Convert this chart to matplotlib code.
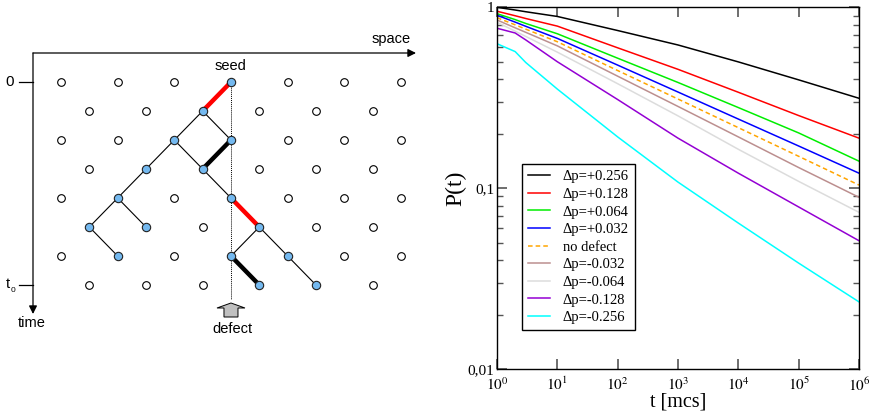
import matplotlib
matplotlib.use("Agg")
import matplotlib.pyplot as plt
from matplotlib.patches import FancyArrow
import numpy as np

# ---- data: survival probability P(t) ----
t = [1, 2, 3, 10, 100, 1e3, 1e4, 1e5, 1e6]
p_plus256 = [1.0, 0.966, 0.945, 0.890, 0.744, 0.619, 0.499, 0.397, 0.314]
p_plus128 = [0.951, 0.898, 0.867, 0.787, 0.597, 0.454, 0.339, 0.252, 0.189]
p_plus064 = [0.922, 0.855, 0.814, 0.714, 0.523, 0.384, 0.279, 0.202, 0.141]
p_plus032 = [0.904, 0.828, 0.785, 0.673, 0.479, 0.340, 0.241, 0.171, 0.121]
p_nodef = [0.876, 0.800, 0.757, 0.645, 0.447, 0.311, 0.216, 0.150, 0.104]
p_minus032 = [0.851, 0.770, 0.727, 0.612, 0.416, 0.283, 0.192, 0.130, 0.089]
p_minus064 = [0.826, 0.738, 0.690, 0.565, 0.378, 0.251, 0.164, 0.109, 0.0735]
p_minus128 = [0.766, 0.721, 0.660, 0.500, 0.309, 0.189, 0.121, 0.0787, 0.0512]
p_minus256 = [0.629, 0.569, 0.495, 0.353, 0.192, 0.108, 0.0641, 0.0385, 0.0235]

labels = ["Δp=+0.256", "Δp=+0.128", "Δp=+0.064", "Δp=+0.032", "no defect",
          "Δp=-0.032", "Δp=-0.064", "Δp=-0.128", "Δp=-0.256"]
series = [p_plus256, p_plus128, p_plus064, p_plus032, p_nodef,
          p_minus032, p_minus064, p_minus128, p_minus256]
colors = ["black", "#ff0000", "#00ee00", "#0000ff", "#ffa500",
          "#bc8f8f", "#dcdcdc", "#9400d3", "#00ffff"]

# ---- schematic: lattice (row, half-column) of active sites and bonds ----
n_rows = 8
n_cols = 13
active = [(0, 6), (1, 5), (2, 4), (2, 6), (3, 3), (3, 5), (4, 2), (4, 6),
          (5, 1), (5, 3), (5, 7), (6, 2), (6, 6), (6, 8), (7, 7), (7, 9)]
thin_bonds = [((1, 5), (2, 4)), ((1, 5), (2, 6)), ((2, 4), (3, 3)), ((2, 4), (3, 5)),
              ((3, 3), (4, 2)), ((3, 5), (4, 6)), ((4, 2), (5, 1)), ((4, 2), (5, 3)),
              ((5, 1), (6, 2)), ((5, 7), (6, 6)), ((5, 7), (6, 8)), ((6, 8), (7, 9))]
red_bonds = [((0, 6), (1, 5)), ((4, 6), (5, 7))]
black_bonds = [((2, 6), (3, 5)), ((6, 6), (7, 7))]
defect_col = 6

fig = plt.figure(figsize=(8.72, 4.13), dpi=100)

# left panel in pixel-like units
axl = fig.add_axes([0, 0, 440 / 872, 1])
axl.set_xlim(0, 440)
axl.set_ylim(413, 0)
axl.axis("off")

x0, dx = 61, 28.33
y0, dy = 82, 29


def pos(node):
    r, c = node
    return x0 + c * dx, y0 + r * dy


sans = "Liberation Sans"

# axes arrows
axl.annotate("", xy=(416, 53), xytext=(33, 53),
             arrowprops=dict(arrowstyle="-|>", color="black", lw=0.9,
                             mutation_scale=12, shrinkA=0, shrinkB=0))
axl.annotate("", xy=(33, 314), xytext=(33, 53),
             arrowprops=dict(arrowstyle="-|>", color="black", lw=0.9,
                             mutation_scale=12, shrinkA=0, shrinkB=0))
axl.plot([19, 33], [y0, y0], color="black", lw=0.9)
axl.plot([19, 33], [y0 + 7 * dy, y0 + 7 * dy], color="black", lw=0.9)
axl.text(10, y0, "0", ha="center", va="center", fontsize=11, family=sans)
axl.text(8, y0 + 7 * dy - 1, "t", ha="center", va="center", fontsize=10.5, family=sans)
axl.text(13, y0 + 7 * dy + 5, "0", ha="center", va="center", fontsize=6, family=sans)
axl.text(32, 323, "time", ha="center", va="center", fontsize=10.5, family=sans)
axl.text(391, 39, "space", ha="center", va="center", fontsize=10.5, family=sans)

# defect line and marker
xd = x0 + defect_col * dx
axl.plot([xd, xd], [y0, 299], color="black", lw=0.7, ls=(0, (1, 1)))
axl.add_patch(FancyArrow(xd, 317, 0, -14, width=14, head_width=28, head_length=5,
                         length_includes_head=True, facecolor="#c0c0c0",
                         edgecolor="black", lw=0.7))
axl.text(xd, 66, "seed", ha="center", va="center", fontsize=10.5, family=sans)
axl.text(xd + 1, 329, "defect", ha="center", va="center", fontsize=10.5, family=sans)

# bonds
for a, b in thin_bonds:
    (xa, ya), (xb, yb) = pos(a), pos(b)
    axl.plot([xa, xb], [ya, yb], color="black", lw=0.8, zorder=2)
for a, b in red_bonds:
    (xa, ya), (xb, yb) = pos(a), pos(b)
    axl.plot([xa, xb], [ya, yb], color="#ff0000", lw=3.2, zorder=2)
for a, b in black_bonds:
    (xa, ya), (xb, yb) = pos(a), pos(b)
    axl.plot([xa, xb], [ya, yb], color="black", lw=3.2, zorder=2)

# lattice sites
for r in range(n_rows):
    for c in range(r % 2, n_cols, 2):
        x, y = pos((r, c))
        if (r, c) in active:
            axl.plot(x, y, "o", ms=6, mfc="#74b9f0", mec="#222222", mew=0.8, zorder=3)
        else:
            axl.plot(x, y, "o", ms=5.5, mfc="white", mec="black", mew=0.8, zorder=3)

# right panel
plt.rcParams["mathtext.fontset"] = "stix"
serif = "Liberation Serif"
axr = fig.add_axes([497 / 872, 44 / 413, 362 / 872, 361.7 / 413])
for p, lab, col in zip(series, labels, colors):
    ls = (0, (3, 2)) if lab == "no defect" else "-"
    axr.plot(t, p, color=col, lw=1.1, ls=ls, label=lab)

axr.set_xscale("log")
axr.set_yscale("log")
axr.set_xlim(1, 1e6)
axr.set_ylim(0.01, 1)
axr.set_xticks([10 ** k for k in range(7)])
axr.set_xticklabels([r"$10^{%d}$" % k for k in range(7)])
axr.xaxis.set_minor_locator(matplotlib.ticker.NullLocator())
axr.set_yticks([0.01, 0.1, 1])
axr.set_yticklabels(["0,01", "0,1", "1"])
axr.yaxis.set_minor_locator(matplotlib.ticker.LogLocator(base=10, subs=np.arange(2, 10)))
axr.yaxis.set_minor_formatter(matplotlib.ticker.NullFormatter())
axr.tick_params(which="both", direction="in", top=True, right=True, color="#555555")
axr.tick_params(which="major", length=7, width=1.2, labelsize=11, pad=2)
axr.tick_params(axis="x", which="major", pad=5)
axr.tick_params(which="minor", length=4, width=1.0)
for lab in axr.get_xticklabels() + axr.get_yticklabels():
    lab.set_family(serif)
for s in axr.spines.values():
    s.set_linewidth(1.0)

axr.set_xlabel("t [mcs]", fontsize=14.5, family=serif, labelpad=-1)
axr.set_ylabel("P(t)", fontsize=17, family=serif, labelpad=1)

leg = axr.legend(loc="lower left", bbox_to_anchor=(0.069, 0.108), prop=dict(family=serif, size=10.5),
                 frameon=True, fancybox=False, edgecolor="black", framealpha=1,
                 handlelength=1.5, labelspacing=0.3, borderpad=0.4, handletextpad=0.9,
                 borderaxespad=0)
leg.get_frame().set_linewidth(1.0)

fig.savefig("out.png", dpi=100)
